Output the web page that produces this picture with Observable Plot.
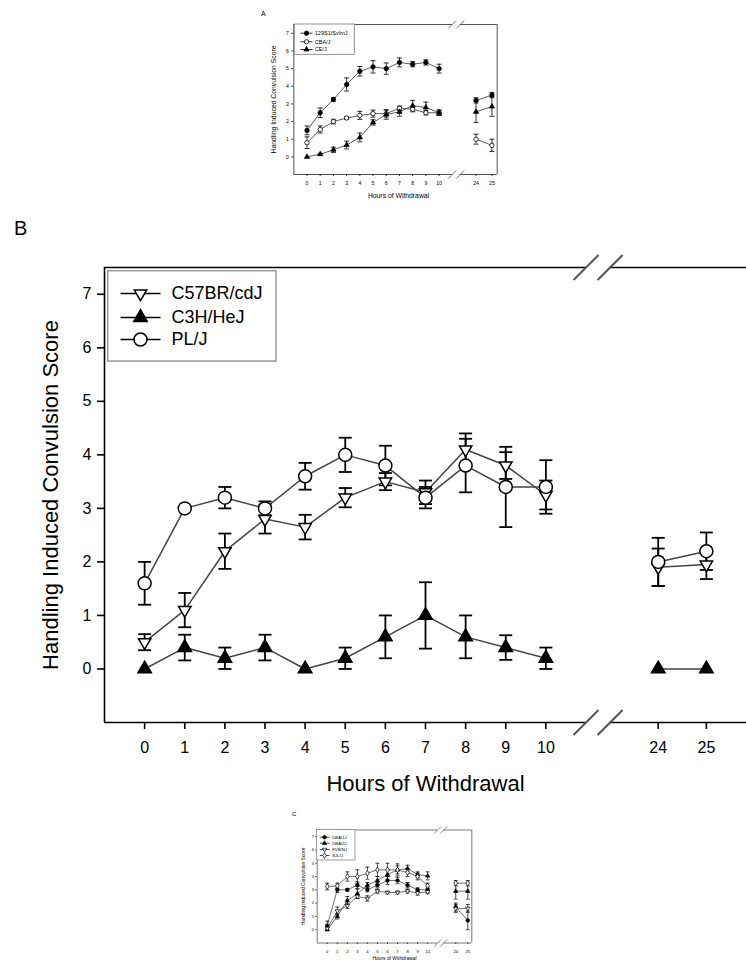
<!DOCTYPE html>
<html><head><meta charset="utf-8">
<script src="https://cdn.jsdelivr.net/npm/d3@7"></script>
<script src="https://cdn.jsdelivr.net/npm/@observablehq/plot@0.6"></script>
<style>
body{margin:0;background:#fff;font-family:"Liberation Sans",Arial,sans-serif;}
#root{position:relative;width:746px;height:965px;overflow:hidden;background:#fff;}
.panel{position:absolute;}
.tag{position:absolute;line-height:1;color:#000;font-family:"Liberation Sans",Arial,sans-serif;}
</style></head><body><div id="root"></div>
<script>
// ---------- shared axis data ----------
const hours = [0,1,2,3,4,5,6,7,8,9,10,24,25];
const hourTickLabels = ["0","1","2","3","4","5","6","7","8","9","10","24","25"];
const scoreTicks = [0,1,2,3,4,5,6,7];
const yTitle = "Handling Induced Convulsion Score";
const xTitle = "Hours of Withdrawal";

// ---------- Panel A ----------
const strainsA = ["129S1/SvImJ","CBA/J","CE/J"];
const meanA_129S1 = [1.5,2.5,3.25,4.1,4.85,5.1,5.0,5.35,5.25,5.35,5.0,3.2,3.5];
const seA_129S1   = [0.25,0.27,0.1,0.37,0.27,0.35,0.32,0.25,0.15,0.15,0.25,0.15,0.15];
const meanA_CBA   = [0.8,1.55,2.0,2.2,2.35,2.45,2.45,2.75,2.7,2.5,2.5,1.0,0.65];
const seA_CBA     = [0.33,0.2,0.13,0.08,0.23,0.2,0.2,0.13,0.15,0.13,0.15,0.28,0.35];
const meanA_CE    = [0,0.15,0.4,0.67,1.1,1.95,2.4,2.55,2.9,2.8,2.5,2.55,2.85];
const seA_CE      = [0,0.05,0.15,0.22,0.25,0.15,0.27,0.25,0.3,0.3,0.15,0.6,0.55];

// ---------- Panel B ----------
const strainsB = ["C57BR/cdJ","C3H/HeJ","PL/J"];
const meanB_C57BR = [0.5,1.1,2.2,2.8,2.65,3.2,3.5,3.3,4.1,3.8,3.25,1.9,1.95];
const seB_C57BR   = [0.15,0.32,0.33,0.27,0.23,0.18,0.16,0.22,0.3,0.25,0.27,0.35,0.27];
const meanB_C3H   = [0,0.4,0.2,0.4,0,0.2,0.6,1.0,0.6,0.4,0.2,0,0];
const seB_C3H     = [0,0.24,0.2,0.24,0,0.2,0.4,0.62,0.4,0.23,0.2,0,0];
const meanB_PLJ   = [1.6,3.0,3.2,3.0,3.6,4.0,3.8,3.2,3.8,3.4,3.4,2.0,2.2];
const seB_PLJ     = [0.4,0,0.2,0.13,0.25,0.32,0.37,0.2,0.5,0.75,0.5,0.45,0.35];

// ---------- Panel C ----------
const strainsC = ["DBA/1J","DBA/2J","FVB/NJ","SJL/J"];
const meanC_DBA1 = [0.3,3.0,3.0,3.35,3.0,3.35,3.7,3.7,3.35,3.0,3.0,1.7,0.7];
const seC_DBA1   = [0.35,0.2,0.1,0.25,0.15,0.2,0.3,0.25,0.2,0.15,0.2,0.3,0.7];
const meanC_DBA2 = [0,1.0,2.2,2.7,3.35,3.7,4.15,4.5,4.6,4.15,4.05,2.9,2.9];
const seC_DBA2   = [0,0.2,0.3,0.35,0.2,0.3,0.35,0.3,0.25,0.2,0.3,0.6,0.6];
const meanC_FVB  = [0.1,1.4,1.8,2.5,2.35,2.9,2.8,2.8,2.9,2.75,2.85,1.6,1.6];
const seC_FVB    = [0.1,0.3,0.2,0.15,0.2,0.15,0.1,0.1,0.15,0.15,0.15,0.3,0.3];
const meanC_SJL  = [3.25,3.3,4.0,4.0,4.25,4.5,4.5,4.5,4.3,4.0,3.3,3.5,3.5];
const seC_SJL    = [0.25,0.2,0.35,0.5,0.45,0.5,0.5,0.45,0.3,0.25,0.2,0.2,0.2];

// ---------- helpers ----------
// broken time axis: 0-10 h, gap, then 24-25 h
function hourPos(h){ return h <= 10 ? h : 12.8 + (h - 24) * 1.2; }
const BREAK1 = 11.0, BREAK2 = 11.6;
const tickPositions = hours.map(hourPos);
const tickLabelMap = new Map(tickPositions.map((p,i)=>[p, hourTickLabels[i]]));

const sqrt3 = Math.sqrt(3);
const triDown = {draw(ctx, size){
  const y = -Math.sqrt(size / (sqrt3 * 3));
  ctx.moveTo(0, -y * 2);
  ctx.lineTo(-sqrt3 * y, y);
  ctx.lineTo(sqrt3 * y, y);
  ctx.closePath();
}};
const STY = {
  filledCircle: {symbol:"circle", fill:"black"},
  openCircle:   {symbol:"circle", fill:"white"},
  filledTri:    {symbol:"triangle", fill:"black"},
  openTriDown:  {symbol:triDown, fill:"white"},
  openDiamond:  {symbol:"diamond", fill:"white"}
};

function buildPanel(cfg){
  const {W,H,ml,mr,mt,mb,xmax} = cfg;
  const xmin = -1, ymin = -1, ymax = 7.5;
  const ppx = (W-ml-mr)/(xmax-xmin), ppy = (H-mt-mb)/(ymax-ymin);
  const ux = p => p/ppx, uy = p => p/ppy;
  const X = p => xmin + (p-ml)/ppx, Y = p => ymax - (p-mt)/ppy;
  const marks = [];
  // frame with broken top & bottom edges
  marks.push(Plot.ruleX([xmin], {stroke:cfg.frameColor, strokeWidth:cfg.frameW}));
  if (cfg.rightBorder) marks.push(Plot.ruleX([xmax], {stroke:cfg.frameColor, strokeWidth:cfg.frameW}));
  const edges = [];
  for (const yy of [ymin, ymax]) {
    edges.push({y:yy, x1:xmin, x2:BREAK1});
    edges.push({y:yy, x1:BREAK2, x2:xmax});
  }
  marks.push(Plot.ruleY(edges, {y:"y", x1:"x1", x2:"x2", stroke:cfg.frameColor, strokeWidth:cfg.frameW}));
  const sl = [];
  for (const yy of [ymin, ymax]) for (const bx of [BREAK1, BREAK2])
    sl.push({x1:bx-ux(cfg.slash), y1:yy-uy(cfg.slash), x2:bx+ux(cfg.slash), y2:yy+uy(cfg.slash)});
  marks.push(Plot.link(sl, {x1:"x1", y1:"y1", x2:"x2", y2:"y2", stroke:"#555", strokeWidth:cfg.slashW}));
  // axes
  marks.push(Plot.axisY({ticks:scoreTicks, tickSize:cfg.tickSize, tickPadding:cfg.tickPadY, fontSize:cfg.tickFs, strokeWidth:cfg.tickW, label:null}));
  marks.push(Plot.axisX({ticks:tickPositions, tickFormat:d=>tickLabelMap.get(d), tickSize:cfg.tickSize, tickPadding:cfg.tickPadX, fontSize:cfg.tickFs, strokeWidth:cfg.tickW, label:null}));
  marks.push(Plot.text([yTitle], {text:d=>d, frameAnchor:"left", dx:cfg.yTitleDx, rotate:-90, textAnchor:"middle", lineAnchor:"middle", fontSize:cfg.titleFs}));
  marks.push(Plot.text([xTitle], {text:d=>d, frameAnchor:"bottom", dy:cfg.xTitleDy, dx:cfg.xTitleDx||0, textAnchor:"middle", lineAnchor:"middle", fontSize:cfg.titleFs}));
  // series
  const rowsets = cfg.series.map(s => hours.map((h,i)=>({x:hourPos(h), y:s.mean[i], se:s.se[i], seg:h<=10?0:1})));
  rowsets.forEach(rows => marks.push(Plot.line(rows, {x:"x", y:"y", z:"seg", stroke:cfg.lineColor, strokeWidth:cfg.lineW})));
  rowsets.forEach(rows => {
    const e = rows.filter(d=>d.se>0);
    marks.push(Plot.ruleX(e, {x:"x", y1:d=>d.y-d.se, y2:d=>d.y+d.se, stroke:"black", strokeWidth:cfg.errW}));
    marks.push(Plot.link(e, {x1:d=>d.x-ux(cfg.cap), x2:d=>d.x+ux(cfg.cap), y1:d=>d.y+d.se, y2:d=>d.y+d.se, stroke:"black", strokeWidth:cfg.errW}));
    marks.push(Plot.link(e, {x1:d=>d.x-ux(cfg.cap), x2:d=>d.x+ux(cfg.cap), y1:d=>d.y-d.se, y2:d=>d.y-d.se, stroke:"black", strokeWidth:cfg.errW}));
  });
  rowsets.forEach((rows,k) => {
    const st = cfg.series[k].style;
    marks.push(Plot.dot(rows, {x:"x", y:"y", symbol:st.symbol, fill:st.fill, stroke:"black", strokeWidth:cfg.dotW, r:cfg.series[k].r}));
  });
  // legend (inside the frame, top-left)
  const L = cfg.legend;
  marks.push(Plot.rect([{x1:X(L.box[0]), x2:X(L.box[2]), y1:Y(L.box[1]), y2:Y(L.box[3])}], {x1:"x1", x2:"x2", y1:"y1", y2:"y2", fill:"white", stroke:L.stroke, strokeWidth:L.strokeW}));
  cfg.series.forEach((s,k) => {
    const ry = Y(L.rows[k]);
    marks.push(Plot.link([{a:X(L.sample[0]), b:X(L.sample[1]), y:ry}], {x1:"a", x2:"b", y1:"y", y2:"y", stroke:"black", strokeWidth:cfg.lineW}));
    marks.push(Plot.dot([{x:X(L.marker), y:ry}], {x:"x", y:"y", symbol:s.style.symbol, fill:s.style.fill, stroke:"black", strokeWidth:cfg.dotW, r:s.r}));
    marks.push(Plot.text([{x:X(L.textX), y:ry, t:s.name}], {x:"x", y:"y", text:"t", textAnchor:"start", fontSize:L.fs}));
  });
  return Plot.plot({
    width:W, height:H, marginLeft:ml, marginRight:mr, marginTop:mt, marginBottom:mb,
    x:{domain:[xmin,xmax]}, y:{domain:[ymin,ymax]},
    style:{fontFamily:'"Liberation Sans", Arial, sans-serif', background:"transparent", overflow:"visible", color:"black"},
    marks
  });
}

const root = document.getElementById("root");
function place(node, left, top){ node.classList.add("panel"); node.style.left = left+"px"; node.style.top = top+"px"; root.appendChild(node); }
function tag(txt, left, top, fs){ const d=document.createElement("div"); d.className="tag"; d.textContent=txt; d.style.left=left+"px"; d.style.top=top+"px"; d.style.fontSize=fs+"px"; root.appendChild(d); }

// Panel A
place(buildPanel({
  W:290, H:205, ml:63.3, mr:23.3, mt:24, mb:31, xmax:14.4, rightBorder:true,
  frameColor:"#555", frameW:1, slash:4, slashW:0.8,
  tickSize:2, tickPadY:3, tickPadX:4.5, tickFs:5.2, tickW:0.8,
  titleFs:6.8, yTitleDx:-20, xTitleDy:21, xTitleDx:3,
  lineColor:"#333", lineW:0.8, errW:0.8, cap:2.5, dotW:0.8,
  series:[
    {name:strainsA[0], mean:meanA_129S1, se:seA_129S1, style:STY.filledCircle, r:2.2},
    {name:strainsA[1], mean:meanA_CBA, se:seA_CBA, style:STY.openCircle, r:2.2},
    {name:strainsA[2], mean:meanA_CE, se:seA_CE, style:STY.filledTri, r:1.9}
  ],
  legend:{box:[64.3,24,124.3,54.3], rows:[32.7,41.3,49], sample:[70,82], marker:76, textX:84.3, fs:5.5, stroke:"#777", strokeW:0.8}
}), 230, 0);
tag("A", 261, 9.6, 7);

// Panel B
place(buildPanel({
  W:746, H:560, ml:104, mr:0, mt:27, mb:78, xmax:15.0, rightBorder:false,
  frameColor:"#000", frameW:1.6, slash:12.5, slashW:2,
  tickSize:7, tickPadY:6, tickPadX:12, tickFs:16, tickW:1.6,
  titleFs:22, yTitleDx:-54, xTitleDy:61, xTitleDx:0,
  lineColor:"#444", lineW:1.5, errW:1.8, cap:6.5, dotW:1.5,
  series:[
    {name:strainsB[0], mean:meanB_C57BR, se:seB_C57BR, style:STY.openTriDown, r:4.6},
    {name:strainsB[1], mean:meanB_C3H, se:seB_C3H, style:STY.filledTri, r:5},
    {name:strainsB[2], mean:meanB_PLJ, se:seB_PLJ, style:STY.openCircle, r:6.5}
  ],
  legend:{box:[107.7,30.7,276,121], rows:[53,77,99], sample:[120,160], marker:140, textX:171, fs:18, stroke:"#999", strokeW:1.5}
}), 0, 240);
tag("B", 14, 218, 20);

// Panel C
place(buildPanel({
  W:200, H:165, ml:26.7, mr:18.7, mt:29.5, mb:22.5, xmax:14.4, rightBorder:true,
  frameColor:"#555", frameW:0.8, slash:3.5, slashW:0.7,
  tickSize:1.5, tickPadY:1.5, tickPadX:5.5, tickFs:4.2, tickW:0.7,
  titleFs:4.9, yTitleDx:-13.7, xTitleDy:15, xTitleDx:0,
  lineColor:"#333", lineW:0.7, errW:0.7, cap:2, dotW:0.7,
  series:[
    {name:strainsC[0], mean:meanC_DBA1, se:seC_DBA1, style:STY.filledCircle, r:1.8},
    {name:strainsC[1], mean:meanC_DBA2, se:seC_DBA2, style:STY.filledTri, r:1.6},
    {name:strainsC[2], mean:meanC_FVB, se:seC_FVB, style:STY.openTriDown, r:1.6},
    {name:strainsC[3], mean:meanC_SJL, se:seC_SJL, style:STY.openDiamond, r:1.8}
  ],
  legend:{box:[26.7,29.5,65,60], rows:[36.7,42.7,49,55], sample:[29.3,39], marker:34, textX:41.7, fs:4.3, stroke:"#777", strokeW:0.7}
}), 290, 800);
tag("C", 292, 811, 6);
</script>
</body></html>
